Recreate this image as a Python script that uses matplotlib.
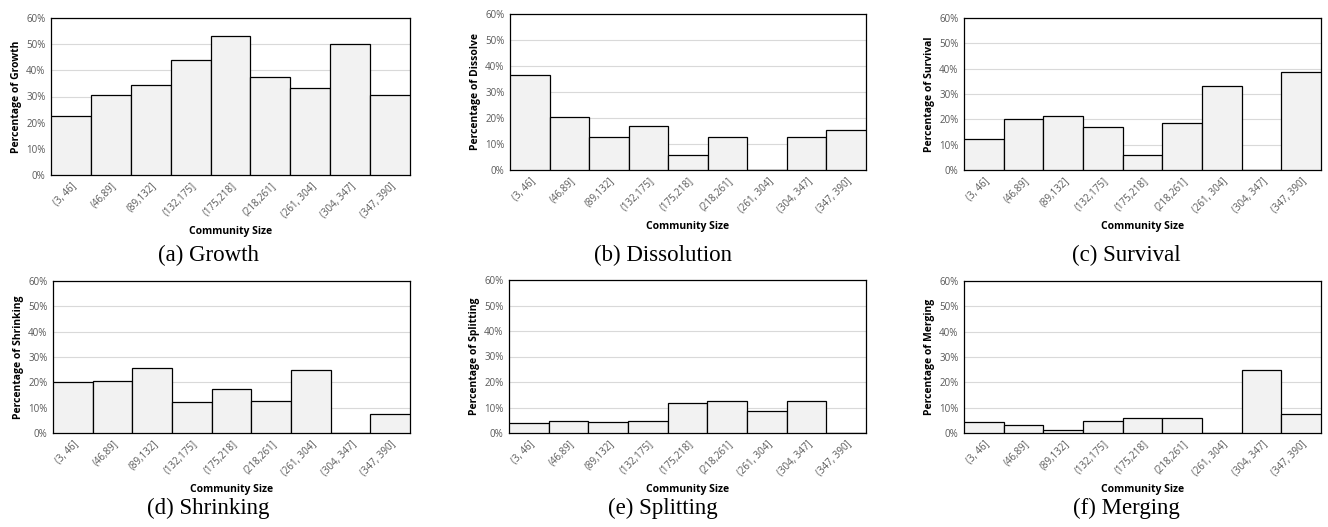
import matplotlib.pyplot as plt
from matplotlib.ticker import FuncFormatter

# size bins and per-bin percentages
bins = ['(3, 46]', '(46,89]', '(89,132]', '(132,175]', '(175,218]',
        '(218,261]', '(261, 304]', '(304, 347]', '(347, 390]']
growth = [22.4, 30.5, 34.3, 44.0, 53.0, 37.5, 33.3, 50.0, 30.7]
dissolve = [36.4, 20.2, 12.8, 17.0, 5.9, 12.5, 0.0, 12.5, 15.3]
survival = [12.2, 20.2, 21.4, 17.1, 5.9, 18.6, 33.2, 0.0, 38.5]
shrinking = [20.3, 20.6, 25.5, 12.2, 17.5, 12.5, 24.8, 0.0, 7.5]
splitting = [3.9, 4.9, 4.2, 4.9, 11.7, 12.5, 8.5, 12.5, 0.0]
merging = [4.3, 3.0, 1.3, 4.7, 5.8, 6.0, 0.0, 24.8, 7.6]

panels = [
    (growth, 'Percentage of Growth', '(a) Growth'),
    (dissolve, 'Percentage of Dissolve', '(b) Dissolution'),
    (survival, 'Percentage of Survival', '(c) Survival'),
    (shrinking, 'Percentage of Shrinking', '(d) Shrinking'),
    (splitting, 'Percentage of Splitting', '(e) Splitting'),
    (merging, 'Percentage of Merging', '(f) Merging'),
]

W, H = 1328, 527
# axes boxes in pixels: left, top, right, bottom
boxes = [(51, 18, 410, 175), (510, 14, 866, 170), (964, 18, 1321, 170),
         (53, 281, 410, 433), (509, 280, 866, 433), (964, 281, 1321, 433)]
captions = [(208, 255), (663, 255), (1126, 255),
            (208, 508), (663, 508), (1126, 508)]

plt.rcParams['font.family'] = ['Open Sans', 'DejaVu Sans']
fig = plt.figure(figsize=(W / 100, H / 100), dpi=100)

for (vals, ylab, cap), (l, t, r, b), (cx, cy) in zip(panels, boxes, captions):
    ax = fig.add_axes([l / W, 1 - b / H, (r - l) / W, (b - t) / H])
    x = range(len(bins))
    ax.bar(x, vals, width=1.0, color='#f2f2f2', edgecolor='black', linewidth=0.9, zorder=3)
    ax.set_xlim(-0.5, len(bins) - 0.5)
    ax.set_ylim(0, 60)
    ax.set_yticks(range(0, 61, 10))
    ax.yaxis.set_major_formatter(FuncFormatter(lambda v, p: f'{int(v)}%'))
    ax.set_xticks(list(x))
    ax.set_xticklabels(bins, rotation=45, ha='right', rotation_mode='anchor')
    ax.tick_params(length=0, labelsize=7, labelcolor='#595959', pad=4)
    ax.grid(axis='y', color='#d9d9d9', linewidth=0.8, zorder=0)
    for s in ax.spines.values():
        s.set_color('black')
        s.set_linewidth(0.9)
    ax.set_ylabel(ylab, fontsize=7.5, fontweight='bold', labelpad=3)
    ax.set_xlabel('Community Size', fontsize=7.5, fontweight='bold', labelpad=4)
    fig.text(cx / W, 1 - cy / H, cap, ha='center', va='center',
             family='Liberation Serif', fontsize=16.5)

fig.savefig('out.png', dpi=100)
